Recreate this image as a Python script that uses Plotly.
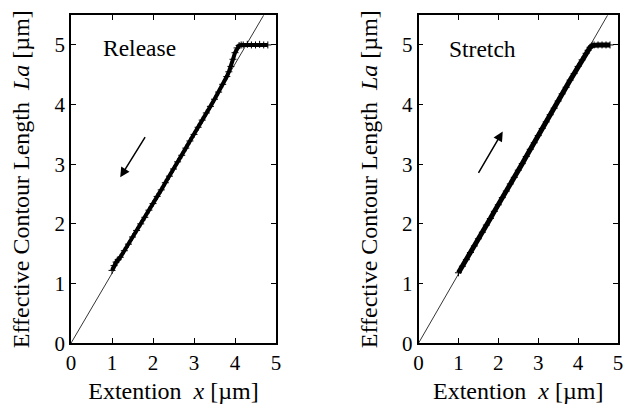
import plotly.graph_objects as go

# ---- data ----
release_x = [1.00, 1.05, 1.10, 1.15, 1.20, 1.30, 1.40, 1.50, 1.60, 1.70, 1.80, 1.90,
             2.00, 2.10, 2.20, 2.30, 2.40, 2.50, 2.60, 2.70, 2.80, 2.90, 3.00, 3.10,
             3.20, 3.30, 3.40, 3.50, 3.60, 3.70, 3.80, 3.85, 3.90, 3.95, 4.00, 4.05,
             4.10, 4.15, 4.20, 4.30, 4.40, 4.50, 4.60, 4.70, 4.80]
release_y = [1.22, 1.30, 1.36, 1.40, 1.44, 1.55, 1.66, 1.78, 1.89, 2.00, 2.11, 2.23,
             2.34, 2.46, 2.57, 2.69, 2.80, 2.92, 3.04, 3.15, 3.27, 3.39, 3.50, 3.62,
             3.74, 3.86, 3.97, 4.09, 4.21, 4.34, 4.47, 4.55, 4.64, 4.76, 4.87, 4.95,
             4.99, 5.00, 5.00, 5.01, 5.00, 5.00, 5.01, 5.00, 5.00]

stretch_x = [1.00, 1.10, 1.20, 1.30, 1.40, 1.50, 1.60, 1.70, 1.80, 1.90, 2.00, 2.10,
             2.20, 2.30, 2.40, 2.50, 2.60, 2.70, 2.80, 2.90, 3.00, 3.10, 3.20, 3.30,
             3.40, 3.50, 3.60, 3.70, 3.80, 3.90, 4.00, 4.10, 4.20, 4.25, 4.30, 4.35,
             4.40, 4.50, 4.60, 4.70, 4.80]
stretch_y = [1.18, 1.29, 1.40, 1.52, 1.63, 1.75, 1.86, 1.98, 2.09, 2.21, 2.32, 2.44,
             2.55, 2.67, 2.78, 2.90, 3.01, 3.13, 3.25, 3.36, 3.48, 3.60, 3.71, 3.83,
             3.94, 4.06, 4.18, 4.29, 4.41, 4.52, 4.64, 4.75, 4.86, 4.91, 4.96, 4.99,
             5.00, 5.00, 5.00, 5.00, 5.00]

fit_left_x = [0.0, 4.70]
fit_left_y = [0.0, 5.5]
fit_right_x = [0.0, 4.74]
fit_right_y = [0.0, 5.5]

x_ticks = [0, 1, 2, 3, 4, 5]
y_ticks = [0, 1, 2, 3, 4, 5]

FONT = "Liberation Serif"

fig = go.Figure()

# left panel
fig.add_trace(go.Scatter(x=fit_left_x, y=fit_left_y, mode="lines",
                         line=dict(color="black", width=0.8),
                         xaxis="x", yaxis="y", showlegend=False))
fig.add_trace(go.Scatter(x=release_x, y=release_y, mode="lines+markers",
                         line=dict(color="black", width=4),
                         marker=dict(symbol="cross-thin", size=5,
                                     line=dict(color="black", width=1)),
                         xaxis="x", yaxis="y", showlegend=False))
# right panel
fig.add_trace(go.Scatter(x=fit_right_x, y=fit_right_y, mode="lines",
                         line=dict(color="black", width=0.8),
                         xaxis="x2", yaxis="y2", showlegend=False))
fig.add_trace(go.Scatter(x=stretch_x, y=stretch_y, mode="lines+markers",
                         line=dict(color="black", width=5),
                         marker=dict(symbol="cross-thin", size=5,
                                     line=dict(color="black", width=1)),
                         xaxis="x2", yaxis="y2", showlegend=False))

axis_common = dict(
    showline=True, linecolor="black", linewidth=1.5, mirror="ticks",
    ticks="inside", ticklen=5, tickwidth=1.2, tickcolor="black",
    showgrid=False, zeroline=False,
    tickfont=dict(family=FONT, size=21, color="black"),
    automargin=False,
)

xtitle = dict(text="Extention  <i>x</i> [µm]", font=dict(family=FONT, size=24, color="black"),
              standoff=8)
ytitle = dict(text="Effective Contour Length  <i>La</i> [µm]",
              font=dict(family=FONT, size=24, color="black"), standoff=18)

fig.update_layout(
    width=641, height=409,
    margin=dict(l=0, r=0, t=0, b=0),
    paper_bgcolor="white", plot_bgcolor="white",
    xaxis=dict(domain=[0.1108, 0.4306], range=[0, 5], tickvals=x_ticks,
               anchor="y", title=xtitle, **axis_common),
    yaxis=dict(domain=[0.161, 0.963], range=[0, 5.5], tickvals=y_ticks,
               anchor="x", title=ytitle, **axis_common),
    xaxis2=dict(domain=[0.6530, 0.9641], range=[0, 5], tickvals=x_ticks,
                anchor="y2", title=xtitle, **axis_common),
    yaxis2=dict(domain=[0.161, 0.963], range=[0, 5.5], tickvals=y_ticks,
                anchor="x2", title=ytitle, **axis_common),
    annotations=[
        dict(text="Release", x=1.66, y=4.95, xref="x", yref="y", showarrow=False,
             font=dict(family=FONT, size=23.5, color="black")),
        dict(text="Stretch", x=1.60, y=4.93, xref="x2", yref="y2", showarrow=False,
             font=dict(family=FONT, size=23.5, color="black")),
        dict(text="", x=1.20, y=2.78, ax=1.83, ay=3.48, xref="x", yref="y",
             axref="x", ayref="y", showarrow=True, arrowhead=2, arrowsize=1.3,
             arrowwidth=1.5, arrowcolor="black"),
        dict(text="", x=2.11, y=3.55, ax=1.48, ay=2.83, xref="x2", yref="y2",
             axref="x2", ayref="y2", showarrow=True, arrowhead=2, arrowsize=1.3,
             arrowwidth=1.5, arrowcolor="black"),
    ],
)

fig.write_html("out.html")
